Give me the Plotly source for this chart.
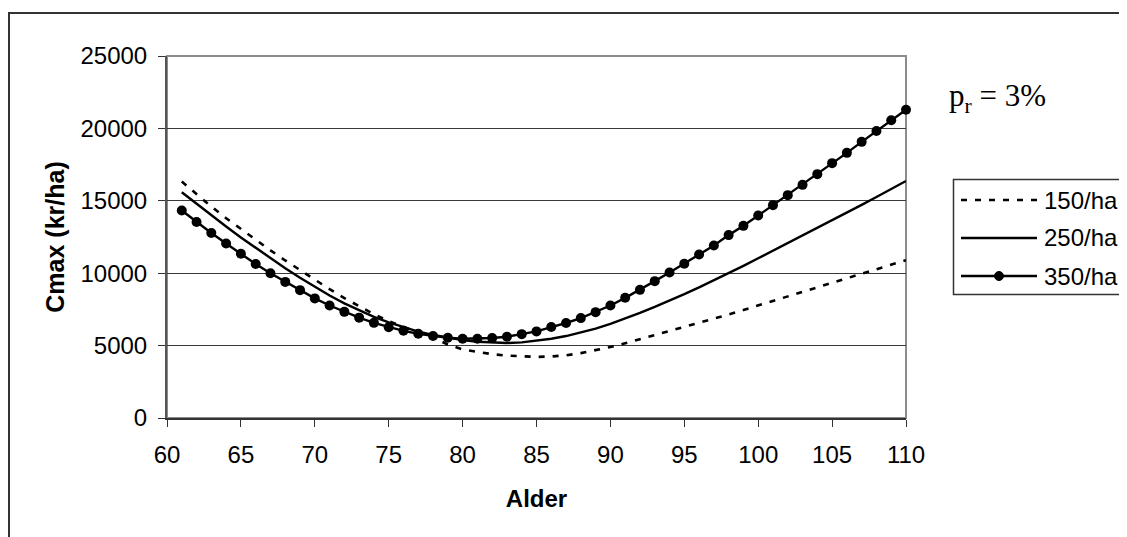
import plotly.graph_objects as go

# ---------------- data ----------------
ages = list(range(61, 111))
series_names = ["150/ha", "250/ha", "350/ha"]

c150 = [16330, 15450, 14600, 13800, 13040, 12300, 11580, 10880, 10200, 9540,
        8900, 8280, 7700, 7170, 6690, 6270, 5900, 5540, 5080, 4730,
        4550, 4410, 4310, 4240, 4220, 4250, 4330, 4480, 4680, 4900,
        5160, 5440, 5720, 6000, 6280, 6560, 6850, 7150, 7460, 7770,
        8080, 8390, 8700, 9010, 9320, 9630, 9950, 10270, 10590, 10900]

c250 = [15590, 14780, 13990, 13220, 12470, 11740, 11030, 10340, 9680, 9050,
        8460, 7920, 7430, 6990, 6600, 6260, 5970, 5730, 5540, 5390,
        5270, 5200, 5180, 5220, 5320, 5470, 5660, 5890, 6170, 6500,
        6870, 7260, 7670, 8100, 8550, 9020, 9500, 10000, 10510, 11030,
        11550, 12070, 12590, 13110, 13630, 14170, 14720, 15260, 15810, 16370]

c350 = [14330, 13540, 12780, 12050, 11340, 10630, 10000, 9400, 8830, 8260,
        7770, 7330, 6930, 6570, 6270, 6020, 5820, 5660, 5540, 5470,
        5470, 5520, 5610, 5790, 5980, 6280, 6560, 6900, 7310, 7770,
        8300, 8850, 9450, 10050, 10650, 11290, 11910, 12630, 13270, 13980,
        14700, 15390, 16100, 16840, 17600, 18310, 19070, 19820, 20560, 21290]

x_ticks = [60, 65, 70, 75, 80, 85, 90, 95, 100, 105, 110]
y_ticks = [0, 5000, 10000, 15000, 20000, 25000]
x_title = "Alder"
y_title = "Cmax (kr/ha)"
note_text = "p<sub>r</sub> = 3%"

# ---------------- layout geometry (page pixels) ----------------
W, H = 1127, 537          # browser window
OFF = 8                   # default body margin of the html page
L, R, T, B = 167, 906, 56, 418   # plot area in page pixels
PW, PH = R - L, B - T


def xp(px):
    return (px - L) / PW


def yp(py):
    return (B - py) / PH


SANS = "Arial, 'Liberation Sans', sans-serif"
SERIF = "'Times New Roman', 'Liberation Serif', serif"

fig = go.Figure()

styles = [
    dict(mode="lines", line=dict(color="black", width=2.6, dash="6px,8px")),
    dict(mode="lines", line=dict(color="black", width=2.4)),
    dict(mode="lines+markers", line=dict(color="black", width=2.4),
         marker=dict(symbol="circle", size=10, color="black")),
]
for name, vals, st in zip(series_names, [c150, c250, c350], styles):
    fig.add_trace(go.Scatter(x=ages, y=vals, name=name, showlegend=False,
                             cliponaxis=False, **st))

shapes = [
    # plot area frame (grey)
    dict(type="rect", xref="paper", yref="paper", x0=0, y0=0, x1=1, y1=1,
         line=dict(color="#8c8c8c", width=2), layer="below"),
    # outer chart border (cropped at right / bottom)
    dict(type="rect", xref="paper", yref="paper", x0=xp(9), y0=yp(13),
         x1=xp(1160), y1=yp(600), line=dict(color="#333333", width=2)),
    # legend box
    dict(type="rect", xref="paper", yref="paper", x0=xp(953.5), y0=yp(179.5),
         x1=xp(1160), y1=yp(294.5), line=dict(color="#333333", width=1.5)),
]

annotations = []
row_y = [200, 238, 276]
for i, (name, st) in enumerate(zip(series_names, styles)):
    ln = st["line"]
    shapes.append(dict(type="line", xref="paper", yref="paper",
                       x0=xp(961), x1=xp(1037), y0=yp(row_y[i]), y1=yp(row_y[i]),
                       line=dict(color="black", width=ln["width"],
                                 dash=ln.get("dash", "solid"))))
    if "marker" in st:
        r = 4.5
        shapes.append(dict(type="circle", xref="paper", yref="paper",
                           x0=xp(999 - r), x1=xp(999 + r),
                           y0=yp(row_y[i] + r), y1=yp(row_y[i] - r),
                           fillcolor="black", line=dict(color="black", width=1)))
    annotations.append(dict(text=name, xref="paper", yref="paper",
                            x=xp(1042), y=yp(row_y[i]), xanchor="left",
                            yanchor="middle", showarrow=False,
                            font=dict(family=SANS, size=24, color="black")))

annotations.append(dict(text=note_text, xref="paper", yref="paper",
                        x=xp(947), y=yp(98), xanchor="left", yanchor="middle",
                        showarrow=False,
                        font=dict(family=SERIF, size=31, color="black")))

fig.update_layout(
    width=W - OFF, height=H - OFF,
    margin=dict(l=L - OFF, r=W - R, t=T - OFF, b=H - B, pad=0),
    paper_bgcolor="white", plot_bgcolor="white",
    font=dict(family=SANS, size=24, color="black"),
    shapes=shapes, annotations=annotations,
    showlegend=False,
)

fig.update_xaxes(
    range=[60, 110], tickvals=x_ticks, ticks="outside", ticklen=7,
    tickcolor="#333333", tickwidth=1, showgrid=False, zeroline=False,
    showline=True, linecolor="#333333", linewidth=2, automargin=False,
    tickfont=dict(family=SANS, size=24, color="black"), ticklabelstandoff=7,
    title=dict(text=x_title, standoff=23,
               font=dict(family=SANS, size=24, color="black", weight="bold")),
)
fig.update_yaxes(
    range=[0, 25000], tickvals=y_ticks, tickformat="d", ticks="outside",
    ticklen=7, tickcolor="#333333", tickwidth=1, showgrid=True,
    gridcolor="#3a3a3a", gridwidth=1, zeroline=False,
    showline=True, linecolor="#555555", linewidth=2, automargin=False,
    tickfont=dict(family=SANS, size=24, color="black"), ticklabelstandoff=6,
    title=dict(text=y_title, standoff=9,
               font=dict(family=SANS, size=25, color="black", weight="bold")),
)

fig.write_html("out.html")
